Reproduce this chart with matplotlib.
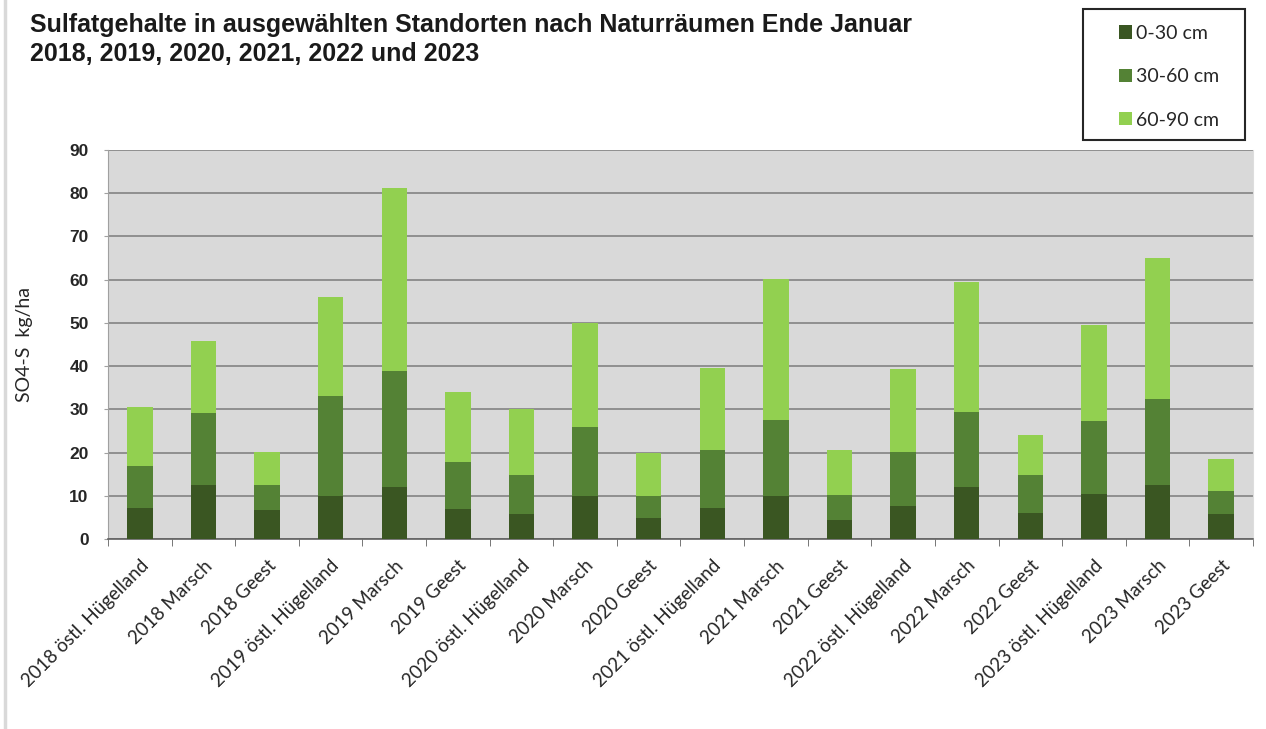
import matplotlib.pyplot as plt
import numpy as np
from matplotlib.patches import Patch, Rectangle

categories = ['2018 östl. Hügelland', '2018 Marsch', '2018 Geest',
              '2019 östl. Hügelland', '2019 Marsch', '2019 Geest',
              '2020 östl. Hügelland', '2020 Marsch', '2020 Geest',
              '2021 östl. Hügelland', '2021 Marsch', '2021 Geest',
              '2022 östl. Hügelland', '2022 Marsch', '2022 Geest',
              '2023 östl. Hügelland', '2023 Marsch', '2023 Geest']
s0_30 = [7.2, 12.6, 6.7, 9.9, 12.0, 7.0, 5.8, 9.9, 4.9,
         7.2, 9.9, 4.4, 7.6, 12.1, 6.1, 10.4, 12.6, 5.8]
s30_60 = [9.8, 16.5, 5.9, 23.1, 26.9, 10.9, 9.0, 16.1, 5.0,
          13.4, 17.6, 5.8, 12.6, 17.2, 8.6, 16.9, 19.9, 5.3]
s60_90 = [13.5, 16.6, 7.5, 23.0, 42.2, 16.1, 15.2, 24.0, 10.0,
          19.0, 32.6, 10.3, 19.1, 30.2, 9.3, 22.3, 32.6, 7.3]
series_names = ['0-30 cm', '30-60 cm', '60-90 cm']
colors = ['#3a5622', '#548235', '#92d050']

fig = plt.figure(figsize=(12.66, 7.29), dpi=100)
ax = fig.add_axes([0.0853, 0.2606, 0.9044, 0.5336])

x = np.arange(len(categories))
w = 0.4
ax.bar(x, s0_30, w, color=colors[0], zorder=3)
ax.bar(x, s30_60, w, bottom=s0_30, color=colors[1], zorder=3)
bottom2 = np.array(s0_30) + np.array(s30_60)
ax.bar(x, s60_90, w, bottom=bottom2, color=colors[2], zorder=3)

ax.set_facecolor('#d9d9d9')
ax.set_xlim(-0.5, len(categories) - 0.5)
ax.set_ylim(0, 90)
ax.set_yticks(range(0, 91, 10))
ax.yaxis.grid(True, color='#8a8a8a', linewidth=1.3, zorder=1)
ax.set_axisbelow(True)
ax.spines['top'].set_visible(False)
ax.spines['right'].set_color('#dddddd')
ax.spines['left'].set_color('#a0a0a0')
ax.spines['bottom'].set_color('#606060')
ax.spines['bottom'].set_linewidth(1.2)

ax.set_xticks(x)
ax.set_xticks(np.arange(-0.5, len(categories)), minor=True)
ax.tick_params(axis='x', which='major', length=0, pad=13)
ax.tick_params(axis='x', which='minor', length=5, color='#606060')
ax.tick_params(axis='y', length=3, color='#a0a0a0', pad=11)
ax.set_xticklabels(categories, rotation=45, ha='right', va='top',
                   rotation_mode='anchor', fontsize=13.5, family='Lato',
                   color='#262626')
for lab in ax.get_yticklabels():
    lab.set_fontsize(12.5)
    lab.set_fontweight('bold')
    lab.set_family('Liberation Sans')
    lab.set_color('#262626')

ax.set_ylabel('SO4-S  kg/ha', fontsize=14, family='Lato', labelpad=26,
              color='#262626')

fig.text(0.0237, 0.982, 'Sulfatgehalte in ausgewählten Standorten nach Naturräumen Ende Januar\n2018, 2019, 2020, 2021, 2022 und 2023',
         fontsize=18, fontweight='bold', family='Liberation Sans', va='top',
         color='#1a1a1a', linespacing=1.25)

handles = [Patch(facecolor=c, label=n) for c, n in zip(colors, series_names)]
leg = fig.legend(handles=handles, loc='upper left', bbox_to_anchor=(0.8839, 0.966),
                 frameon=False, prop={'family': 'Lato', 'size': 14},
                 labelspacing=1.36, handlelength=0.67, handleheight=0.67,
                 handletextpad=0.2, borderpad=0, borderaxespad=0)
for t in leg.get_texts():
    t.set_color('#262626')

fig.add_artist(Rectangle((0.8555, 0.808), 0.128, 0.1797, transform=fig.transFigure,
                         fill=False, edgecolor='#262626', linewidth=1.5))
fig.add_artist(plt.Line2D([0.004, 0.004], [0, 1], color='#d9d9d9', linewidth=2.5))

fig.savefig('out.png', dpi=100)
